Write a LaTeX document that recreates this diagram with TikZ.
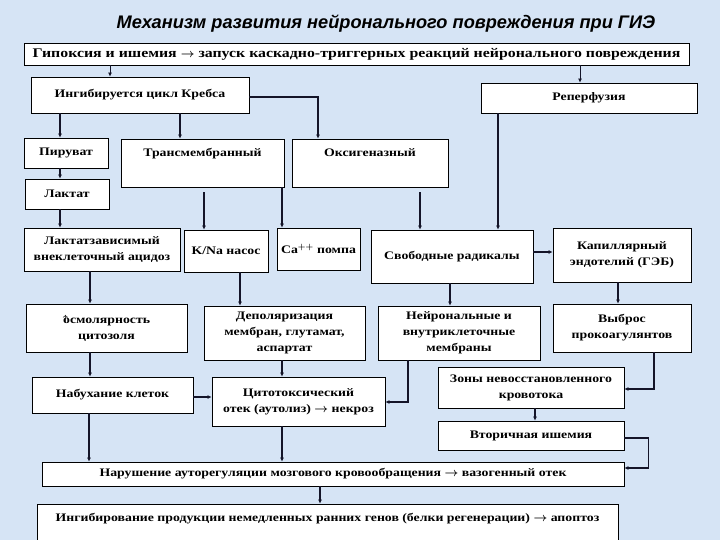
\documentclass[tikz,border=0pt]{standalone}
\usepackage{fontspec}
\setmainfont{Liberation Serif}[FakeStretch=1.2]
\newfontfamily\titlefont{Liberation Sans}
\usetikzlibrary{arrows.meta,calc}
\definecolor{figBack}{HTML}{D6E4F5}
\definecolor{figLine}{HTML}{141428}

\begin{document}
\begin{tikzpicture}[x=1pt, y=-1pt,
  every node/.style={font=\bfseries\boldmath\fontsize{11.5}{16}\selectfont},
  box/.style={draw=black, line width=0.8pt, fill=white, align=center, inner sep=0pt},
  bx/.style 2 args={box, minimum width=#1pt, minimum height=#2pt},
  link/.style={-{Latex[length=4pt,width=4pt]}, line width=1.6pt, figLine},
  thinlink/.style={link, line width=0.9pt},
]

% Background
\useasboundingbox (0,0) rectangle (720,540);
\fill[figBack] (0,0) rectangle (720,540);

% Title
\node[font=\titlefont\bfseries\itshape\fontsize{18.2}{21}\selectfont] (title) at (386,24)
  {Механизм развития нейронального повреждения при ГИЭ};

% Top row
\node[bx={665}{22}, font=\bfseries\boldmath\fontsize{13.2}{16}\selectfont] (hyp) at (356.5,54)
  {Гипоксия и ишемия $\rightarrow$ запуск каскадно-триггерных реакций нейронального повреждения};
\node[bx={218}{36}] (krebs) at (140,95) {Ингибируется цикл Кребса};
\node[bx={216}{30}] (reperf) at (589,98) {Реперфузия};

% Metabolic branch
\node[bx={84}{30}] (pyr) at (66,153) {Пируват};
\node[bx={84}{30}] (lact) at (67,194) {Лактат};
\node[bx={163}{48}] (trans) at (202.5,163) {Трансмембранный\\\strut};
\node[bx={156}{48}] (oxy) at (370,163) {Оксигеназный\\\strut};

% Second level
\node[bx={156}{43}] (acid) at (102,249.5) {Лактатзависимый\\внеклеточный ацидоз};
\node[bx={84}{42}] (kna) at (226,251) {K/Na насос};
\node[bx={83}{42}] (ca) at (318.5,249) {Ca$^{++}$ помпа};
\node[bx={162}{53}] (rad) at (452,256.5) {Свободные радикалы};
\node[bx={138}{54}] (endo) at (622,255) {Капиллярный\\эндотелий (ГЭБ)};

% Third level
\node[bx={161}{48}] (osm) at (106.5,328)
  {\raisebox{2pt}{\small$\uparrow$}\kern-5pt осмолярность\\цитозоля};
\node[bx={161}{54}] (depol) at (284.5,333) {Деполяризация\\мембран, глутамат,\\аспартат};
\node[bx={162}{54}] (memb) at (459,333) {Нейрональные и\\внутриклеточные\\мембраны};
\node[bx={138}{48}] (procoag) at (622,328) {Выброс\\прокоагулянтов};

% Fourth level
\node[bx={161}{36}] (swell) at (112.5,395) {Набухание клеток};
\node[bx={173}{49}] (cytox) at (298.5,401.5) {Цитотоксический\\отек (аутолиз) $\rightarrow$ некроз};
\node[bx={186}{41}] (noflow) at (531,387.5) {Зоны невосстановленного\\кровотока};
\node[bx={186}{29}] (isch) at (531,435.5) {Вторичная ишемия};

% Bottom
\node[bx={582}{24}] (autoreg) at (333,474)
  {Нарушение ауторегуляции мозгового кровообращения $\rightarrow$ вазогенный отек};
\node[bx={581}{48}] (genes) at (327.5,528)
  {Ингибирование продукции немедленных ранних генов (белки регенерации) $\rightarrow$ апоптоз\\\strut};

% Connectors from the top
\draw[thinlink] ([xshift=-30pt]krebs.north |- hyp.south) -- ([xshift=-30pt]krebs.north);
\draw[thinlink] ([xshift=-9pt]reperf.north |- hyp.south) -- ([xshift=-9pt]reperf.north);
\draw[link] ([xshift=-6pt]pyr.north |- krebs.south) -- ([xshift=-6pt]pyr.north);
\draw[link] ([xshift=-22.5pt]trans.north |- krebs.south) -- ([xshift=-22.5pt]trans.north);
\draw[link] ([yshift=-2pt]krebs.east) -| ([xshift=-52pt]oxy.north);
\draw[link] ([xshift=46pt]rad.north |- reperf.south) -- ([xshift=46pt]rad.north);

% Metabolic chain
\draw[link] ([xshift=-6pt]pyr.south) -- ([xshift=-6pt]pyr.south |- lact.north);
\draw[link] ([xshift=-7pt]lact.south) -- ([xshift=-7pt]lact.south |- acid.north);
\draw[link] ([xshift=-22pt,yshift=-5pt]kna.north |- trans.south) -- ([xshift=-22pt]kna.north);
\draw[link] ([xshift=-36.5pt]ca.north |- trans.south) -- ([xshift=-36.5pt]ca.north);
\draw[link] ([xshift=-32pt,yshift=-5pt]rad.north |- oxy.south) -- ([xshift=-32pt]rad.north);
\draw[link] ([yshift=4.5pt]rad.east) -- ([yshift=4.5pt]rad.east -| endo.west);

% Middle
\draw[link] ([xshift=-12pt]acid.south) -- ([xshift=-12pt]acid.south |- osm.north);
\draw[link] ([xshift=14pt]kna.south) -- ([xshift=14pt]kna.south |- depol.north);
\draw[link] ([xshift=-2pt]rad.south) -- ([xshift=-2pt]rad.south |- memb.north);
\draw[link] ([xshift=-4pt]endo.south) -- ([xshift=-4pt]endo.south |- procoag.north);
\draw[link] ([xshift=-16.5pt]osm.south) -- ([xshift=-16.5pt]osm.south |- swell.north);
\draw[link] ([xshift=-2.5pt]depol.south) -- ([xshift=-2.5pt]depol.south |- cytox.north);
\draw[link] ([yshift=-2pt]swell.east) -- ([yshift=-2pt]swell.east -| cytox.west);
\draw[link] ([xshift=-51pt]memb.south) |- ([yshift=-0.5pt]cytox.east);
\draw[link] ([xshift=32pt]procoag.south) |- ([yshift=-1.5pt]noflow.east);
\draw[link] ([xshift=4pt]noflow.south) -- ([xshift=4pt]isch.north);

% Towards the bottom
\draw[link] ([yshift=-2.5pt]isch.east) -- ++(24,0) |- ([yshift=6pt]autoreg.east);
\draw[link] ([xshift=-23.5pt]swell.south) -- ([xshift=-23.5pt]swell.south |- autoreg.north);
\draw[link] ([xshift=-16.5pt]cytox.south) -- ([xshift=-16.5pt]cytox.south |- autoreg.north);
\draw[link] ([xshift=-13pt]autoreg.south) -- ([xshift=-13pt]autoreg.south |- genes.north);

\end{tikzpicture}
\end{document}
